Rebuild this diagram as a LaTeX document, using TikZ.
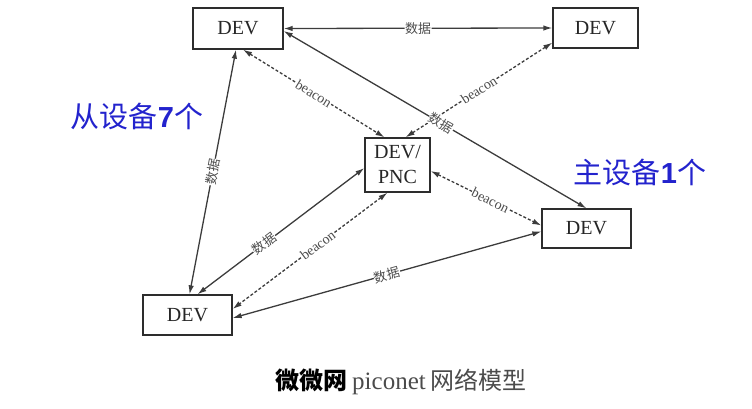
\documentclass[tikz,border=0pt]{standalone}
\usepackage{fontspec}
\setmainfont{Liberation Serif}
\newfontfamily\cjk{Noto Sans CJK SC}
\newfontfamily\dgt{Liberation Sans}
\usetikzlibrary{arrows.meta,calc}
\definecolor{lncol}{RGB}{60,60,60}
\definecolor{bxcol}{RGB}{45,45,45}
\definecolor{bluetxt}{RGB}{35,35,205}
\definecolor{capgray}{RGB}{75,75,75}
\begin{document}
\begin{tikzpicture}[x=1pt,y=-1pt,
  devbox/.style={draw=bxcol,line width=1.3pt,fill=white,font=\fontsize{20}{25}\selectfont,align=center,inner sep=0pt,text=black!85},
  link/.style={draw=lncol,line width=1.3pt,{Latex[length=9pt,width=5.5pt]}-{Latex[length=9pt,width=5.5pt]}},
  beaconlink/.style={link,dash pattern=on 3pt off 2pt},
  lab/.style={midway,sloped,fill=white,inner sep=0.5pt,text=black!70},
  cjklab/.style={lab,font=\cjk\fontsize{13}{13}\selectfont},
  enlab/.style={lab,font=\fontsize{14}{14}\selectfont},
  bluelab/.style={text=bluetxt,font=\cjk\fontsize{29}{30}\selectfont,inner sep=0pt}
]
\useasboundingbox (0,0) rectangle (752,409);
% devices
\node[devbox,minimum width=90pt,minimum height=41pt] (tl) at (238,28.5) {DEV};
\node[devbox,minimum width=85pt,minimum height=40pt] (tr) at (595.5,28) {DEV};
\node[devbox,minimum width=65pt,minimum height=54pt] (c) at (397.5,165) {DEV/\\PNC};
\node[devbox,minimum width=89pt,minimum height=39pt] (r) at (586.5,228.5) {DEV};
\node[devbox,minimum width=89pt,minimum height=40pt] (bl) at (187.5,315) {DEV};
% links
\draw[link] (tl.east) -- node[cjklab]{数据} (tr.west);
\draw[link] ($(tl.south)+(-2,0)$) -- node[cjklab]{数据} ($(bl.north)+(2,0)$);
\draw[beaconlink] ($(tl.south)+(5,0)$) -- node[enlab]{beacon} ($(c.north)+(-13,0)$);
\draw[beaconlink] ($(tr.south west)+(0,-6)$) -- node[enlab]{beacon} ($(c.north)+(8,0)$);
\draw[link] ($(tl.east)+(0,2.5)$) -- node[cjklab,pos=0.52]{数据} (r.north);
\draw[beaconlink] ($(c.east)+(0,6)$) -- node[enlab,pos=0.54]{beacon} ($(r.west)+(0,-3)$);
\draw[link] ($(c.west)+(0,3)$) -- node[cjklab,pos=0.6]{数据} ($(bl.north)+(10,0)$);
\draw[beaconlink] ($(c.south)+(-10,0)$) -- node[enlab,pos=0.45]{beacon} ($(bl.east)+(0,-6)$);
\draw[link] ($(bl.east)+(0,3)$) -- node[cjklab]{数据} ($(r.west)+(0,3)$);
% annotations
\node[bluelab] (slave) at (137,116) {从设备{\dgt\bfseries 7}个};
\node[bluelab] (master) at (640,172) {主设备{\dgt\bfseries 1}个};
% caption
\node[inner sep=0pt,text=capgray] (cap) at (401,382) {{\cjk\fontsize{24}{24}\selectfont\bfseries\color{black}微微网}\hspace{5pt}{\fontsize{25}{25}\selectfont piconet}\hspace{5pt}{\cjk\fontsize{24}{24}\selectfont 网络模型}};
\end{tikzpicture}
\end{document}
